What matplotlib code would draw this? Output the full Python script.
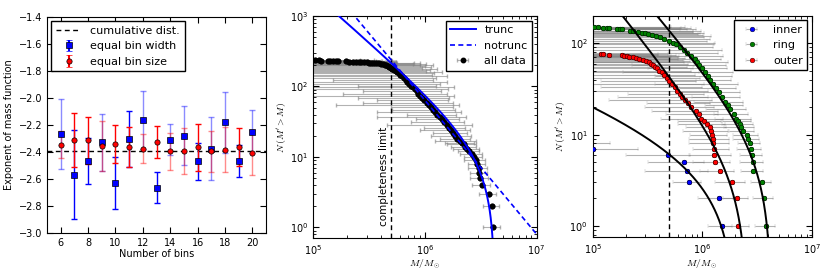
import numpy as np
import matplotlib
matplotlib.use("Agg")
import matplotlib.pyplot as plt

# --- left panel: fitted exponent vs number of bins
n_bins = [6, 7, 8, 9, 10, 11, 12, 13, 14, 15, 16, 17, 18, 19, 20]
slope_width = [-2.27, -2.57, -2.465, -2.33, -2.63, -2.305, -2.165, -2.665,
               -2.31, -2.28, -2.47, -2.375, -2.18, -2.465, -2.25]
slope_width_err = [0.26, 0.33, 0.17, 0.21, 0.195, 0.21, 0.215, 0.115,
                   0.115, 0.22, 0.135, 0.23, 0.225, 0.12, 0.16]
slope_size = [-2.345, -2.31, -2.315, -2.355, -2.34, -2.365, -2.375, -2.325,
              -2.395, -2.39, -2.365, -2.395, -2.385, -2.365, -2.405]
slope_size_err = [0.10, 0.20, 0.175, 0.185, 0.143, 0.15, 0.11, 0.12,
                  0.137, 0.17, 0.175, 0.15, 0.167, 0.14, 0.165]
slope_cumulative = -2.39
faded_bins = [6, 9, 12, 14, 15, 17, 18, 20]

# --- middle panel: all clusters, mass in 1e5 Msun and cumulative number
all_mass = [1.03, 1.12, 1.16, 1.36, 1.42, 1.50, 1.58, 1.65,
            1.95, 2.10, 2.25, 2.40, 2.55, 2.70, 2.85, 3.00,
            3.15, 3.30, 3.45, 3.60, 3.75, 3.90, 4.05, 4.20, 4.35, 4.50, 4.65, 4.80, 4.95,
            5.10, 5.30, 5.45, 5.60, 5.80, 6.00, 6.20, 6.45, 6.70, 6.95, 7.20, 7.50, 7.80,
            8.10, 8.40, 8.75, 9.10, 9.50, 9.90,
            10.4, 10.9, 11.4, 11.9, 12.4, 12.9, 13.5, 14.2, 14.9, 15.6, 16.4, 17.2, 17.9,
            18.6, 19.5, 20.4, 21.3, 22.2, 23.0, 24.0, 25.0, 26.5, 27.5, 28.5, 29.4, 30.3,
            30.6, 31.1, 32.2, 37.2, 39.5, 40.4]
all_n = [235, 234, 233, 232, 231, 230, 229, 228,
         227, 226, 225, 224, 223, 222, 221, 220,
         219, 218, 217, 216, 215, 213, 211, 208, 205, 201, 196, 190, 185,
         180, 174, 168, 161, 154, 147, 140, 132, 125, 117, 110, 103, 97,
         91, 85, 79, 74, 69, 64,
         59, 55, 51, 47, 43, 40, 37, 34, 31, 28, 26, 24, 22,
         20, 18, 17, 16, 15, 14, 13, 12, 11, 10, 9, 8, 7,
         6, 5, 4, 3, 2, 1]
all_err = [1.6, 2.4, 1.9, 2.8, 2.2, 3.1, 2.5, 3.4,
           2.6, 3.3, 2.1, 2.9, 3.0, 2.4, 2.6, 2.2,
           2.0, 2.3, 1.8, 1.9, 4.3, 5.1, 3.7, 6.0, 4.6, 7.2, 5.3, 6.5, 4.4,
           7.8, 5.9, 4.8, 8.6, 6.2, 5.5, 9.4, 6.1, 5.2, 8.8, 6.4, 5.0, 10.5,
           8.1, 5.6, 6.9, 9.0, 7.0, 6.2,
           7.6, 9.3, 6.4, 6.8, 8.7, 6.0, 9.8, 5.9, 7.4, 11.0, 6.6, 8.2, 6.1,
           7.3, 5.9, 8.0, 6.2, 6.6, 5.8, 6.3, 5.4, 6.0, 5.2, 6.2, 5.3, 5.8,
           5.4, 5.9, 6.0, 6.5, 6.7, 7.0]

# fit parameters: norm, cutoff mass, slope
trunc_fit = (11.7, 4.2e6, -1.39)
notrunc_fit = (63.5, -1.9)   # N at 1e6 Msun, slope
mass_limit = 5e5

# --- right panel: clusters by region (mass in 1e5 Msun)
inner_mass = [0.85, 1.01, 4.9, 6.8, 7.2, 7.6, 14.2, 15.1]
inner_n = [8, 7, 6, 5, 4, 3, 2, 1]
inner_err = [0.6, 1.6, 2.9, 3.6, 4.2, 2.2, 5.0, 3.7]

ring_mass = [1.02, 1.12, 1.25, 1.35, 1.42, 1.68, 1.78, 1.86,
             2.20, 2.35, 2.60, 2.80, 3.00, 3.20, 3.50, 3.80, 4.10, 4.50,
             5.00, 5.40, 5.80, 6.20, 6.80, 7.30, 7.90, 8.50, 8.90, 9.40,
             10.0, 10.5, 11.2, 11.8, 12.5, 13.3, 14.2, 15.0, 16.0, 17.0, 18.0,
             19.5, 20.5, 21.3, 22.0, 22.8, 23.5,
             25.5, 26.0, 27.3, 27.7, 28.6, 28.9, 29.3, 34.9, 36.7, 38.0]
ring_n = [150, 149, 148, 147, 146, 145, 144, 143,
          138, 136, 132, 130, 128, 126, 122, 119, 116, 112,
          107, 102, 97, 91, 85, 79, 73, 68, 63, 58,
          53, 48, 44, 40, 36, 32, 29, 26, 23, 21, 19,
          17, 15, 14, 13, 12, 11,
          10, 9, 8, 7, 6, 5, 4, 3, 2, 1]
ring_err = [4.2, 5.8, 3.6, 6.5, 5.0, 4.6, 6.9, 5.4, 6.1, 7.3,
            5.6, 6.8, 7.4, 6.0, 6.6, 8.1, 6.3, 7.2, 6.0, 7.8,
            7.0, 6.4, 8.2, 6.6, 7.5, 6.2, 8.4, 7.1, 6.8, 8.6,
            7.5, 6.4, 8.8, 7.2, 8.0, 6.9, 7.6, 6.5, 7.2, 6.6,
            7.4, 6.3, 6.8, 7.0, 6.1, 6.5, 6.8, 6.2, 6.9, 6.4,
            7.0, 6.5, 7.2, 7.6, 8.0]

outer_mass = [1.18, 1.25, 1.42, 1.86, 1.95, 2.05, 2.15, 2.35, 2.50, 2.65,
              2.85, 3.05, 3.25, 3.40, 3.55, 3.70, 3.85, 4.05, 4.25, 4.45,
              4.75, 5.00, 5.30, 5.60, 5.90, 6.20, 6.50, 6.90, 7.40, 7.90,
              8.70, 9.30, 9.80, 10.4, 11.0, 11.8, 12.0, 12.3, 12.5, 12.6,
              12.8, 12.9, 13.1, 14.6, 18.8, 20.7, 21.4]
outer_n = [77, 76, 75, 74, 73, 72, 71, 70, 69, 68,
           66, 64, 62, 60, 58, 55, 53, 50, 48, 45,
           42, 39, 36, 33, 30, 28, 26, 24, 22, 20,
           18, 17, 15, 14, 13, 12, 11, 10, 9, 8,
           7, 6, 5, 4, 3, 2, 1]
outer_err = [2.8, 3.6, 2.5, 3.9, 3.2, 4.1, 2.9, 3.7, 4.4, 3.3,
             3.8, 4.6, 3.5, 4.0, 4.9, 3.6, 4.3, 3.9, 5.1, 4.2,
             4.7, 3.8, 5.0, 4.4, 5.3, 4.1, 4.8, 5.5, 4.3, 4.9,
             5.2, 4.6, 5.6, 4.4, 5.0, 4.7, 5.3, 4.5, 4.9, 5.1,
             4.6, 5.4, 4.8, 5.0, 5.7, 5.3, 5.5]

inner_fit = (7.0, 2.0e6, -0.45)
ring_fit = (7.15, 4.27e6, -1.4)
outer_fit = (4.0, 2.57e6, -1.5)


plt.rcParams['font.size'] = 7
plt.rcParams['xtick.direction'] = 'in'
plt.rcParams['ytick.direction'] = 'in'
plt.rcParams['xtick.top'] = True
plt.rcParams['ytick.right'] = True
plt.rcParams['xtick.major.size'] = 4
plt.rcParams['ytick.major.size'] = 4
plt.rcParams['xtick.minor.size'] = 2
plt.rcParams['ytick.minor.size'] = 2
plt.rcParams['axes.linewidth'] = 0.8
plt.rcParams['mathtext.fontset'] = 'cm'
plt.rcParams['legend.fancybox'] = False
plt.rcParams['legend.edgecolor'] = 'k'
plt.rcParams['legend.framealpha'] = 1
plt.rcParams['legend.numpoints'] = 1
plt.rcParams['legend.handlelength'] = 2.3

GREY = (0.5, 0.5, 0.5, 0.6)


def trunc_curve(m, fit):
    norm, mcut, slope = fit
    n = norm * ((m / mcut) ** slope - 1)
    n[m >= mcut] = np.nan
    return n


fig = plt.figure(figsize=(8.3, 2.77), dpi=100)
ax1 = fig.add_axes([0.0566, 0.159, 0.264, 0.780])
ax2 = fig.add_axes([0.3775, 0.140, 0.269, 0.802])
ax3 = fig.add_axes([0.7141, 0.143, 0.264, 0.800])

# ---------------- left
line_cum = ax1.axhline(slope_cumulative, color='k', ls='--', lw=1, dashes=(3.5, 2.5))
for x, y, e in zip(n_bins, slope_width, slope_width_err):
    a = 0.45 if x in faded_bins else 1.0
    ax1.errorbar(x, y, yerr=e, fmt='none', ecolor='b', elinewidth=1, capsize=2, alpha=a)
for x, y, e in zip(n_bins, slope_size, slope_size_err):
    a = 0.45 if x in faded_bins else 1.0
    ax1.errorbar(x, y, yerr=e, fmt='none', ecolor='r', elinewidth=1, capsize=2, alpha=a)
ax1.plot(n_bins, slope_width, 'bs', ms=3.8, mec='k', mew=0.5, zorder=3)
ax1.plot(n_bins, slope_size, 'ro', ms=3.8, mec='k', mew=0.5, zorder=3)
h_w = ax1.errorbar([np.nan], [np.nan], yerr=[1], fmt='bs', ms=3.8, mec='k', mew=0.5,
                   ecolor='b', capsize=2)
h_s = ax1.errorbar([np.nan], [np.nan], yerr=[1], fmt='ro', ms=3.8, mec='k', mew=0.5,
                   ecolor='r', capsize=2)
ax1.legend([line_cum, h_w, h_s], ['cumulative dist.', 'equal bin width', 'equal bin size'],
           loc='upper left', fontsize=8, borderaxespad=0.4)
ax1.set_xlim(5, 21)
ax1.set_ylim(-3.0, -1.4)
ax1.set_xticks(range(6, 21, 2))
ax1.set_yticks(np.arange(-3.0, -1.35, 0.2))
ax1.set_xlabel('Number of bins', labelpad=1)
ax1.set_ylabel('Exponent of mass function', labelpad=3)

# ---------------- middle
m_all = np.array(all_mass) * 1e5
e_all = np.array(all_err) * 1e5
grid = np.logspace(5, 7, 3000)

h_all = ax2.errorbar(m_all, all_n, xerr=e_all, fmt='o', color='k', ms=3.2, mec='k',
                     ecolor=GREY, elinewidth=0.8, capsize=1.2, zorder=1)
ax2.plot(m_all, all_n, 'ko', ms=3.2, zorder=3)
h_tr, = ax2.plot(grid, trunc_curve(grid, trunc_fit), 'b-', lw=1.4, zorder=4)
h_nt, = ax2.plot(grid, notrunc_fit[0] * (grid / 1e6) ** notrunc_fit[1], 'b--', lw=1.2,
                 dashes=(3, 2), zorder=4)
ax2.axvline(mass_limit, color='k', ls='--', lw=1, dashes=(3.5, 2.5), zorder=2)
ax2.text(mass_limit * 0.95, 1.05, 'completeness limit', rotation=90,
         ha='right', va='bottom', fontsize=7.5)
ax2.set_xscale('log')
ax2.set_yscale('log')
ax2.set_xlim(1e5, 1e7)
ax2.set_ylim(0.7, 1000)
ax2.legend([h_tr, h_nt, h_all], ['trunc', 'notrunc', 'all data'], loc='upper right',
           fontsize=8, borderaxespad=0.4)
ax2.set_xlabel(r'$M/M_\odot$', labelpad=1)
ax2.set_ylabel(r'$N\,(M^\prime > M)$', labelpad=1)

# ---------------- right
groups = [('inner', 'b', inner_mass, inner_n, inner_err),
          ('ring', 'g', ring_mass, ring_n, ring_err),
          ('outer', 'r', outer_mass, outer_n, outer_err)]
handles = []
for name, col, m, n, e in groups:
    h = ax3.errorbar(np.array(m) * 1e5, n, xerr=np.array(e) * 1e5, fmt='o', color=col,
                     ms=3.4, mec='k', mew=0.3, ecolor=GREY, elinewidth=0.8,
                     capsize=1.2, zorder=1)
    handles.append(h)
for name, col, m, n, e in groups:
    ax3.plot(np.array(m) * 1e5, n, 'o', color=col, ms=3.4, mec='k', mew=0.3, zorder=3)
for fit in (inner_fit, ring_fit, outer_fit):
    ax3.plot(grid, trunc_curve(grid, fit), 'k-', lw=1.4, zorder=4)
ax3.axvline(mass_limit, color='k', ls='--', lw=1, dashes=(3.5, 2.5), zorder=2)
ax3.set_xscale('log')
ax3.set_yscale('log')
ax3.set_xlim(1e5, 1e7)
ax3.set_ylim(0.75, 200)
ax3.legend(handles, ['inner', 'ring', 'outer'], loc='upper right', fontsize=8,
           borderaxespad=0.4)
ax3.set_xlabel(r'$M/M_\odot$', labelpad=1)
ax3.set_ylabel(r'$N\,(M^\prime > M)$', labelpad=1)

fig.savefig('out.png', dpi=100)
